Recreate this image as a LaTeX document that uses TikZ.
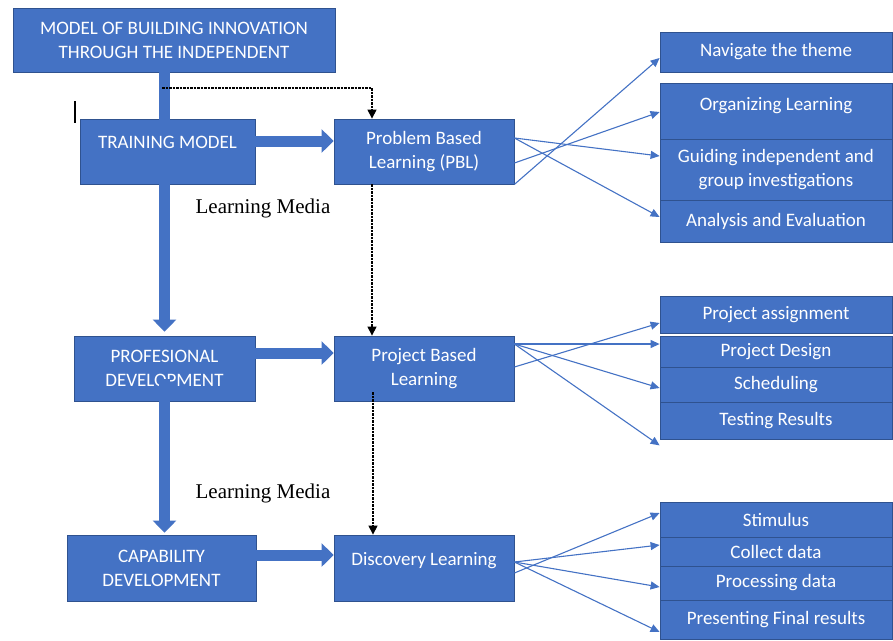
\documentclass[tikz,border=0pt]{standalone}
\usepackage{fontspec}
\usepackage{tikz}
\usetikzlibrary{arrows.meta,calc}

\newfontfamily\boxfont{Carlito}
\newfontfamily\mediafont{Liberation Serif}

\definecolor{boxblue}{HTML}{4472C4}
\definecolor{edgeblue}{HTML}{2F528F}

\tikzset{
    box/.style={
        draw=edgeblue,
        fill=boxblue,
        line width=0.8pt,
        text=white,
        align=center,
        font=\boxfont\fontsize{19}{24}\selectfont
    },
    bigarrow/.style={boxblue, line width=11pt, -{Triangle[length=12pt,width=23pt]}},
    fan/.style={boxblue, line width=1.1pt, -{Triangle[length=9pt,width=8pt]}},
    dashline/.style={black, line width=1.1pt, dash pattern=on 2.5pt off 1pt,
        -{Triangle[length=9pt,width=9pt]}},
    media/.style={font=\mediafont\fontsize{21}{24}\selectfont}
}

\begin{document}
\begin{tikzpicture}[x=1pt,y=-1pt]

\useasboundingbox (0,0) rectangle (893,640);

% left column
\node[box, minimum width=322pt, minimum height=64pt] (top) at (174,40)
{MODEL OF BUILDING INNOVATION\\THROUGH THE INDEPENDENT};

\node[box, minimum width=175pt, minimum height=65pt, text depth=18pt] (train) at (167.5,151.5)
{TRAINING MODEL};

\node[box, minimum width=181pt, minimum height=65pt] (prof) at (164.5,368.5)
{PROFESIONAL\\DEVELOPMENT};

\node[box, minimum width=189pt, minimum height=66pt] (cap) at (161.5,568)
{CAPABILITY\\DEVELOPMENT};

% middle column
\node[box, minimum width=180pt, minimum height=65pt] (pbl) at (424,151.5)
{Problem Based\\Learning (PBL)};

\node[box, minimum width=180pt, minimum height=65pt] (pjbl) at (424,368.5)
{Project Based\\Learning};

\node[box, minimum width=180pt, minimum height=66pt, text depth=19pt] (disc) at (424,568)
{Discovery Learning};

\node[media] (media1) at (263,208) {Learning Media};
\node[media] (media2) at (263,493) {Learning Media};

% right column
\node[box, minimum width=232pt, minimum height=40pt] (nav) at (776,52) {Navigate the theme};
\node[box, minimum width=232pt, minimum height=56pt, text depth=15pt] (org) at (776,111) {Organizing Learning};
\node[box, minimum width=232pt, minimum height=61pt] (guide) at (776,169.5) {Guiding independent and\\group investigations};
\node[box, minimum width=232pt, minimum height=42pt] (anal) at (776,221) {Analysis and Evaluation};

\node[box, minimum width=232pt, minimum height=37pt] (assign) at (776,314.5) {Project assignment};
\node[box, minimum width=232pt, minimum height=31pt] (design) at (776,351.5) {Project Design};
\node[box, minimum width=232pt, minimum height=35pt] (sched) at (776,384.5) {Scheduling};
\node[box, minimum width=232pt, minimum height=37pt] (test) at (776,420.5) {Testing Results};

\node[box, minimum width=232pt, minimum height=35pt] (stim) at (776,519.5) {Stimulus};
\node[box, minimum width=232pt, minimum height=29pt] (coll) at (776,551.5) {Collect data};
\node[box, minimum width=232pt, minimum height=34pt] (proc) at (776,583) {Processing data};
\node[box, minimum width=232pt, minimum height=39pt] (pres) at (776,620) {Presenting Final results};

% block arrows
\draw[bigarrow] (top.south -| prof.north) -- ($(train.north -| prof.north)+(0,18)$);
\draw[bigarrow] (train.south -| prof.north) -- ($(prof.north)+(0,-4)$);
\draw[bigarrow] ($(prof.north)+(0,43)$) -- ($(cap.north -| prof.north)+(0,-2)$);

\draw[bigarrow] ($(train.east)+(0,-10.5)$) -- ($(pbl.west)+(0,-10.5)$);
\draw[bigarrow] ($(prof.east)+(0,-15.5)$) -- ($(prof.east -| pjbl.west)+(0,-15.5)$);
\draw[bigarrow] ($(cap.east)+(0,-13)$) -- ($(cap.east -| disc.west)+(0,-13)$);

% dashed line down the middle
\coordinate (split) at (162,88);
\coordinate (drop) at (372,88);
\draw[dashline] (split) -- (drop) -- (drop |- pbl.north);
\draw[dashline] (drop |- pbl.south) -- (drop |- pjbl.north);
\draw[dashline] ($(drop |- pjbl.south)+(1,-9)$) -- ($(drop |- disc.north)+(1,0)$);

% fan-out arrows
\draw[fan] ($(pbl.east)+(0,-13.5)$) -- ($(guide.west)+(0,-13.5)$);
\draw[fan] ($(pbl.east)+(0,-13.5)$) -- ($(anal.west)+(0,-4)$);
\draw[fan] ($(pbl.east)+(0,11.5)$) -- ($(org.west)+(0,1)$);
\draw[fan] (pbl.south east) -- ($(nav.west)+(0,6)$);

\draw[fan] ($(pjbl.east)+(0,-24.5)$) -- ($(design.west)+(0,-7.5)$);
\draw[fan] ($(pjbl.east)+(0,-24.5)$) -- ($(sched.west)+(0,3.5)$);
\draw[fan] ($(pjbl.east)+(0,-24.5)$) -- ($(test.south west)+(0,6)$);
\draw[fan] ($(pjbl.east)+(0,-1.5)$) -- ($(assign.west)+(0,8.5)$);

\draw[fan] ($(disc.east)+(0,-6)$) -- ($(coll.west)+(0,-6.5)$);
\draw[fan] ($(disc.east)+(0,-6)$) -- ($(proc.west)+(0,4)$);
\draw[fan] ($(disc.east)+(0,-6)$) -- ($(pres.west)+(0,12)$);
\draw[fan] ($(disc.east)+(0,5)$) -- ($(stim.west)+(0,-6.5)$);

\draw[line width=1.2pt] (75,101) -- (75,123);

\end{tikzpicture}
\end{document}
